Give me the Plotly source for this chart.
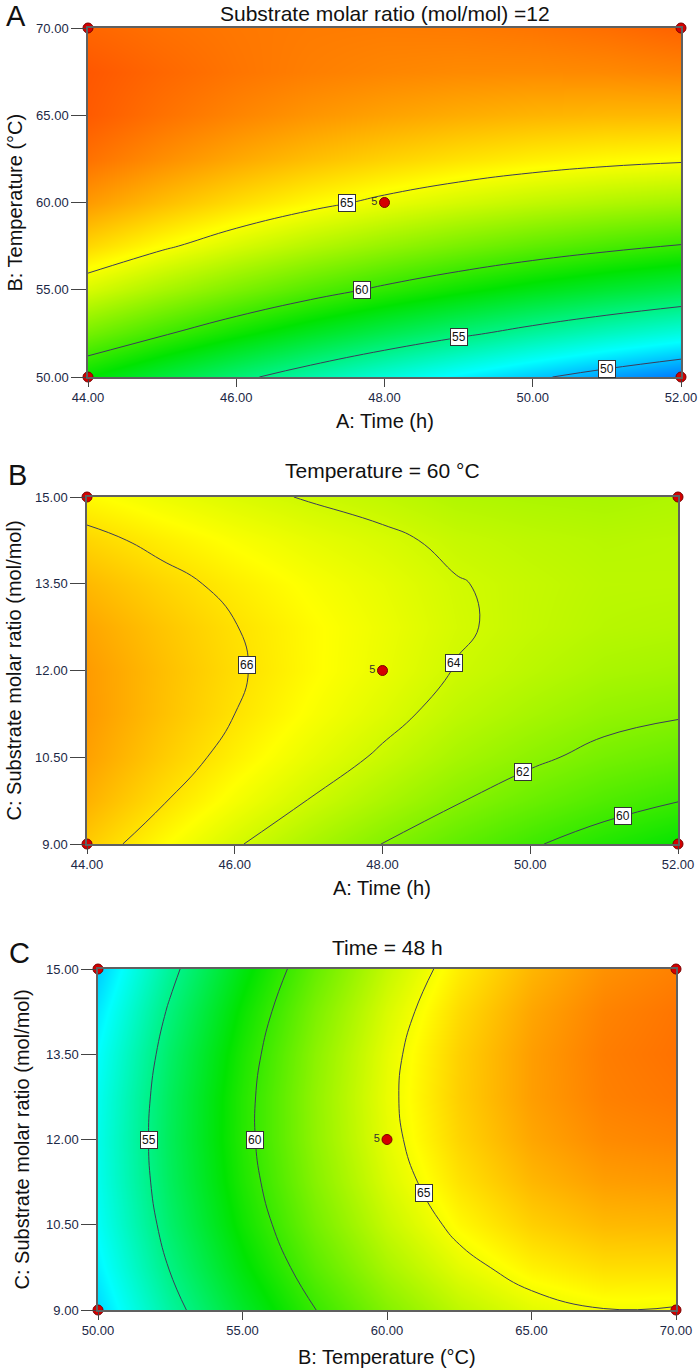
import numpy as np
import plotly.graph_objects as go

# ---------------- data ----------------
time_h = [44, 45, 46, 47, 48, 49, 50, 51, 52]
temp_c = [50, 52.5, 55, 57.5, 60, 62.5, 65, 67.5, 70]
ratio = [9, 9.75, 10.5, 11.25, 12, 12.75, 13.5, 14.25, 15]

# Panel A: rows = temperature (ascending), columns = time
z_A = [
    [58.50, 56.93, 55.44, 54.03, 52.70, 51.45, 50.29, 49.20, 48.20],
    [61.60, 60.19, 58.86, 57.62, 56.45, 55.37, 54.36, 53.44, 52.60],
    [64.20, 62.95, 61.79, 60.70, 59.70, 58.78, 57.94, 57.18, 56.50],
    [66.30, 65.22, 64.21, 63.29, 62.45, 61.69, 61.01, 60.42, 59.90],
    [67.90, 66.98, 66.14, 65.38, 64.70, 64.10, 63.59, 63.15, 62.80],
    [69.00, 68.24, 67.56, 66.97, 66.45, 66.02, 65.66, 65.39, 65.20],
    [69.60, 69.00, 68.49, 68.05, 67.70, 67.43, 67.24, 67.13, 67.10],
    [69.70, 69.27, 68.91, 68.64, 68.45, 68.34, 68.31, 68.37, 68.50],
    [69.30, 69.03, 68.84, 68.73, 68.70, 68.75, 68.89, 69.10, 69.40],
]
# Panel B: rows = substrate molar ratio (ascending), columns = time
z_B = [
    [66.62, 65.34, 64.14, 63.02, 61.98, 61.02, 60.15, 59.35, 58.64],
    [67.30, 66.11, 65.00, 63.97, 63.02, 62.10, 61.32, 60.61, 60.04],
    [67.74, 66.64, 65.62, 64.68, 63.82, 62.94, 62.25, 61.63, 61.20],
    [67.94, 66.93, 66.00, 65.15, 64.38, 63.54, 62.94, 62.41, 62.12],
    [67.90, 66.98, 66.14, 65.38, 64.70, 63.95, 63.44, 63.00, 62.80],
    [67.62, 66.79, 66.04, 65.37, 64.78, 64.13, 63.70, 63.36, 63.24],
    [67.11, 66.37, 65.71, 65.13, 64.63, 64.06, 63.73, 63.47, 63.45],
    [66.35, 65.70, 65.13, 64.64, 64.23, 63.76, 63.51, 63.35, 63.41],
    [65.36, 64.80, 64.32, 63.92, 63.60, 63.21, 63.06, 62.98, 63.14],
]
# Panel C: rows = substrate molar ratio (ascending), columns = temperature
z_C = [
    [50.70, 54.31, 57.40, 59.96, 62.00, 63.51, 64.50, 64.96, 64.90],
    [51.43, 55.10, 58.25, 60.88, 62.98, 64.55, 65.60, 66.13, 66.13],
    [51.94, 55.68, 58.89, 61.58, 63.74, 65.38, 66.49, 67.08, 67.14],
    [52.23, 56.03, 59.30, 62.05, 64.28, 65.98, 67.15, 67.80, 67.93],
    [52.30, 56.16, 59.50, 62.31, 64.60, 66.36, 67.60, 68.31, 68.50],
    [52.15, 56.08, 59.48, 62.35, 64.70, 66.53, 67.83, 68.60, 68.85],
    [51.79, 55.78, 59.24, 62.18, 64.59, 66.48, 67.84, 68.68, 68.99],
    [51.20, 55.25, 58.78, 61.78, 64.25, 66.20, 67.63, 68.53, 68.90],
    [50.40, 54.51, 58.10, 61.16, 63.70, 65.71, 67.20, 68.16, 68.60],
]

# design points (corners + centre)
design_A_x = [44, 52, 44, 52, 48]
design_A_y = [50, 50, 70, 70, 60]
design_B_x = [44, 52, 44, 52, 48]
design_B_y = [9, 9, 15, 15, 12]
design_C_x = [50, 70, 50, 70, 60]
design_C_y = [9, 9, 15, 15, 12]
centre_label = "5"

titles = ["Substrate molar ratio (mol/mol) =12", "Temperature = 60 °C", "Time = 48 h"]
letters = ["A", "B", "C"]
x_titles = ["A: Time (h)", "A: Time (h)", "B: Temperature (°C)"]
y_titles = ["B: Temperature (°C)", "C: Substrate molar ratio (mol/mol)",
            "C: Substrate molar ratio (mol/mol)"]
ticks_time = [44, 46, 48, 50, 52]
ticks_temp_A = [50, 55, 60, 65, 70]
ticks_ratio = [9, 10.5, 12, 13.5, 15]
ticks_temp_C = [50, 55, 60, 65, 70]

levels_A = (50, 65, 5)
levels_B = (60, 66, 2)
levels_C = (55, 65, 5)

# contour label anchors: (level, fixed axis, fixed value)
labels_A = [(65, "x", 47.5), (60, "x", 47.7), (55, "x", 49.0), (50, "x", 51.0)]
labels_B = [(66, "y", 12.1), (64, "y", 12.13), (62, "x", 49.9), (60, "x", 51.25)]
labels_C = [(55, "y", 12.0), (60, "y", 12.0), (65, "y", 11.05)]

# ---------------- styling ----------------
W, H = 700, 1371
FONT = "Liberation Sans, Arial, sans-serif"
colorscale = [[0, "#0000ff"], [0.25, "#00ffff"], [0.5, "#00e400"],
              [0.75, "#ffff00"], [1, "#ff0000"]]
ZMIN, ZMAX = 45, 72
LINE_C = "#3c3c5a"

# pixel boxes of the three plot areas (left, right, top, bottom)
boxes = [(88, 681, 28, 377), (87, 678, 497, 844), (98, 676, 969, 1310)]


def px(x):
    return x / W


def py(y):
    return 1 - y / H


def crossing(xs, ys, Z, level, axis, val):
    Z = np.asarray(Z, float)
    xs = np.asarray(xs, float)
    ys = np.asarray(ys, float)
    if axis == "x":
        prof = np.array([np.interp(val, xs, row) for row in Z])
        coords = ys
    else:
        prof = np.array([np.interp(val, ys, Z[:, k]) for k in range(Z.shape[1])])
        coords = xs
    for k in range(len(coords) - 1):
        a, b = prof[k], prof[k + 1]
        if (a - level) * (b - level) <= 0 and a != b:
            pos = coords[k] + (level - a) / (b - a) * (coords[k + 1] - coords[k])
            return (val, pos) if axis == "x" else (pos, val)
    return None


fig = go.Figure()
panels = [
    (time_h, temp_c, z_A, levels_A, labels_A, design_A_x, design_A_y, ticks_time, ticks_temp_A),
    (time_h, ratio, z_B, levels_B, labels_B, design_B_x, design_B_y, ticks_time, ticks_ratio),
    (temp_c, ratio, z_C, levels_C, labels_C, design_C_x, design_C_y, ticks_temp_C, ticks_ratio),
]
annotations = []


def paper_text(x, y, text, size, angle=0):
    return dict(x=px(x), y=py(y), xref="paper", yref="paper", text=text,
                showarrow=False, xanchor="center", yanchor="middle", textangle=angle,
                font=dict(family=FONT, size=size, color="#111"))


for p, (xs, ys, Z, lev, labs, dx, dy, xt, yt) in enumerate(panels):
    xa = "x" if p == 0 else f"x{p + 1}"
    ya = "y" if p == 0 else f"y{p + 1}"
    fig.add_trace(go.Heatmap(x=xs, y=ys, z=Z, zsmooth="best", colorscale=colorscale,
                             zmin=ZMIN, zmax=ZMAX, showscale=False, hoverinfo="skip",
                             xaxis=xa, yaxis=ya))
    fig.add_trace(go.Contour(x=xs, y=ys, z=Z, autocontour=False,
                             contours=dict(start=lev[0], end=lev[1], size=lev[2],
                                           coloring="none", showlabels=False),
                             line=dict(color=LINE_C, width=1, smoothing=1.3),
                             showscale=False, hoverinfo="skip", xaxis=xa, yaxis=ya))
    fig.add_trace(go.Scatter(x=dx, y=dy, mode="markers+text",
                             text=["", "", "", "", centre_label],
                             textposition="middle left",
                             textfont=dict(family=FONT, size=11, color="#333"),
                             marker=dict(size=10, color="#d40000",
                                         line=dict(color="#7a0000", width=1)),
                             cliponaxis=False, hoverinfo="skip", xaxis=xa, yaxis=ya))
    for level, axis, val in labs:
        pos = crossing(xs, ys, Z, level, axis, val)
        if pos is None:
            continue
        annotations.append(dict(x=pos[0], y=pos[1], xref=xa, yref=ya, text=str(level),
                                showarrow=False, xanchor="center", yanchor="middle",
                                font=dict(family=FONT, size=12, color="#111"),
                                bgcolor="white", bordercolor="#333", borderwidth=1,
                                borderpad=1))

    l, r, t, b = boxes[p]
    axis_common = dict(showline=True, linecolor="#606060", linewidth=1.5, mirror=True,
                       ticks="outside", tickcolor="#444", tickwidth=1.2,
                       showgrid=False, zeroline=False, tickformat=".2f",
                       automargin=False,
                       tickfont=dict(family=FONT, size=13, color="#1c2846"))
    fig.layout[("xaxis" if p == 0 else f"xaxis{p + 1}")] = dict(
        axis_common, domain=[px(l), px(r)], range=[xs[0], xs[-1]], tickvals=xt,
        ticklen=8, anchor=ya)
    fig.layout[("yaxis" if p == 0 else f"yaxis{p + 1}")] = dict(
        axis_common, domain=[py(b), py(t)], range=[ys[0], ys[-1]], tickvals=yt,
        ticklen=15, anchor=xa)

    cx = (l + r) / 2
    cy = (t + b) / 2
    annotations.append(paper_text(cx, [14, 470, 947][p], titles[p], 21))
    lx, ly = [(16, 16), (17, 475), (19, 953)][p]
    annotations.append(paper_text(lx, ly, letters[p], 29))
    annotations.append(paper_text(cx, [421, 888, 1357][p], x_titles[p], 20))
    annotations.append(paper_text([14, 14, 21][p], cy, y_titles[p], 20, angle=-90))

fig.update_layout(width=W, height=H,
                  margin=dict(l=0, r=0, t=0, b=0, pad=0, autoexpand=False),
                  paper_bgcolor="white", plot_bgcolor="white", showlegend=False,
                  annotations=annotations)
fig.write_html("out.html",
               config={"displayModeBar": False},
               post_script="document.body.style.margin='0px';"
                           "document.body.style.padding='0px';")
